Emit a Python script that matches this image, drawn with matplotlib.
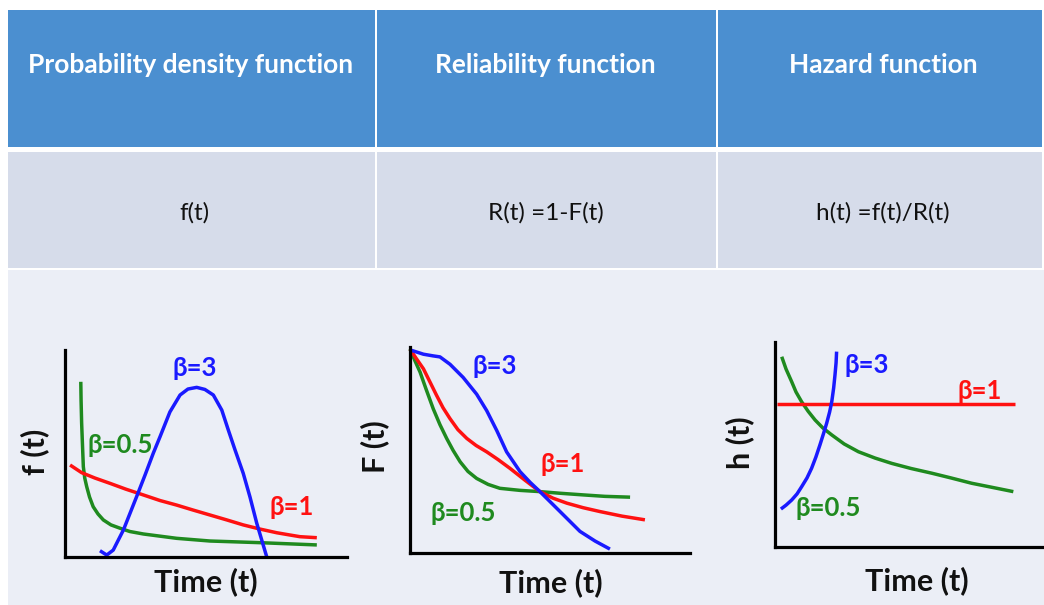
import matplotlib
matplotlib.use("Agg")
import matplotlib.pyplot as plt
from matplotlib.patches import Rectangle

# ---------------------------------------------------------------- text content
headers = ["Probability density function", "Reliability function", "Hazard function"]
formulas = ["f(t)", "R(t) =1-F(t)", "h(t) =f(t)/R(t)"]
ylabels = ["f (t)", "F (t)", "h (t)"]
xlabel = "Time (t)"
beta_labels = ["\u03b2=0.5", "\u03b2=1", "\u03b2=3"]

# ---------------------------------------------------------------- curve data
# probability density f(t)
pdf_b05_t = [0.56, 0.57, 0.59, 0.62, 0.65, 0.70, 0.77, 0.87, 1.00, 1.17, 1.36, 1.63,
             1.95, 2.30, 2.78, 3.96, 5.14, 6.91, 8.93]
pdf_b05_v = [8.46, 7.57, 6.46, 5.40, 4.35, 3.80, 3.38, 2.88, 2.41, 2.06, 1.77, 1.53,
             1.37, 1.21, 1.09, 0.88, 0.75, 0.67, 0.56]
pdf_b1_t = [0.18, 0.59, 1.06, 1.60, 2.16, 2.78, 3.37, 3.96, 4.54, 5.14, 5.74, 6.32,
            6.91, 7.51, 7.98, 8.33, 8.93]
pdf_b1_v = [4.43, 4.06, 3.80, 3.54, 3.26, 2.98, 2.71, 2.49, 2.25, 2.01, 1.77, 1.53,
            1.33, 1.15, 1.04, 0.96, 0.91]
pdf_b3_t = [1.24, 1.48, 1.71, 2.07, 2.54, 2.84, 3.13, 3.37, 3.72, 4.08, 4.36, 4.67,
            4.96, 5.26, 5.56, 5.79, 6.03, 6.32, 6.56, 6.80, 7.15]
pdf_b3_v = [0.28, 0.07, 0.31, 1.28, 2.90, 3.95, 5.00, 5.80, 7.00, 7.82, 8.11, 8.19,
            8.09, 7.82, 7.09, 6.13, 5.16, 4.03, 2.88, 1.61, 0.00]

# reliability R(t)
rel_b05_t = [0.00, 0.18, 0.36, 0.57, 0.83, 1.07, 1.31, 1.54, 1.79, 2.07, 2.38, 2.79,
             3.21, 3.93, 4.64, 5.36, 6.19, 6.96, 7.86]
rel_b05_v = [9.90, 9.32, 8.78, 7.97, 7.00, 6.23, 5.56, 4.98, 4.43, 3.96, 3.62, 3.33,
             3.14, 3.04, 2.98, 2.90, 2.82, 2.75, 2.71]
rel_b1_t = [0.00, 0.21, 0.48, 0.71, 0.95, 1.18, 1.43, 1.71, 2.03, 2.36, 2.74, 3.14,
            3.57, 4.11, 4.64, 5.11, 5.60, 6.18, 6.79, 7.57, 8.39]
rel_b1_v = [9.90, 9.47, 8.94, 8.31, 7.65, 7.05, 6.52, 5.99, 5.56, 5.22, 4.91, 4.54,
            4.11, 3.53, 2.98, 2.66, 2.42, 2.20, 2.01, 1.79, 1.61]
rel_b3_t = [0.00, 0.48, 0.82, 1.07, 1.43, 1.90, 2.38, 2.74, 3.10, 3.45, 3.93, 4.29,
            4.64, 5.36, 6.07, 6.61, 7.14]
rel_b3_v = [9.86, 9.65, 9.57, 9.52, 9.16, 8.52, 7.71, 6.91, 5.94, 4.91, 3.95, 3.43,
            2.98, 2.01, 1.05, 0.58, 0.19]

# hazard h(t)
haz_b05_t = [0.25, 0.41, 0.62, 0.78, 0.99, 1.23, 1.49, 1.78, 2.11, 2.57, 3.10, 3.72,
             4.34, 5.06, 5.83, 6.54, 7.31, 8.07, 8.86]
haz_b05_v = [9.28, 8.68, 8.06, 7.56, 7.08, 6.62, 6.19, 5.80, 5.46, 5.02, 4.64, 4.33,
             4.07, 3.82, 3.59, 3.36, 3.10, 2.90, 2.69]
haz_b1_t = [0.06, 8.92]
haz_b1_v = [6.96, 6.96]
haz_b3_t = [0.22, 0.41, 0.62, 0.82, 0.99, 1.19, 1.36, 1.52, 1.67, 1.80, 1.92, 2.03,
            2.11, 2.18, 2.23, 2.27, 2.29]
haz_b3_v = [1.84, 2.03, 2.28, 2.58, 2.93, 3.36, 3.83, 4.38, 4.97, 5.51, 6.03, 6.58,
            7.08, 7.75, 8.39, 8.98, 9.53]

# ---------------------------------------------------------------- styling
W, H = 1044, 605
HEADER_BLUE = "#4b8fd0"
FORMULA_BG = "#d6dcea"
BODY_BG = "#ebeef6"
GREEN = "#1f8a1f"
RED = "#ff1111"
BLUE = "#1a1aff"
LW = 2.5
SANS = ["Lato", "Open Sans", "DejaVu Sans"]

fig = plt.figure(figsize=(W / 100, H / 100), dpi=100)
fig.patch.set_facecolor("white")

# background layer in pixel coordinates
bg = fig.add_axes([0, 0, 1, 1])
bg.set_xlim(0, W)
bg.set_ylim(H, 0)
bg.axis("off")

col_edges = [(8, 375), (377, 716), (718, 1042)]
for (x0, x1) in col_edges:
    bg.add_patch(Rectangle((x0, 10), x1 - x0, 137, color=HEADER_BLUE, lw=0))
    bg.add_patch(Rectangle((x0, 152), x1 - x0, 116, color=FORMULA_BG, lw=0))
bg.add_patch(Rectangle((8, 270), W - 8, H - 270, color=BODY_BG, lw=0))

header_x = [191, 545, 883]
for x, txt in zip(header_x, headers):
    bg.text(x, 65, txt, ha="center", va="center", color="white",
            fontsize=19, fontweight="bold", family=SANS)
formula_x = [194, 546, 883]
for x, txt in zip(formula_x, formulas):
    bg.text(x, 213, txt, ha="center", va="center", color="#111111",
            fontsize=17.5, family=SANS)

# ---------------------------------------------------------------- panels
# (left, bottom, right, top) of each panel's axis lines, in pixels
panels = [(65, 556.5, 347, 350), (410, 553, 690, 347), (775, 546.7, 1044, 342)]
series = [
    [(pdf_b05_t, pdf_b05_v, GREEN), (pdf_b1_t, pdf_b1_v, RED), (pdf_b3_t, pdf_b3_v, BLUE)],
    [(rel_b05_t, rel_b05_v, GREEN), (rel_b1_t, rel_b1_v, RED), (rel_b3_t, rel_b3_v, BLUE)],
    [(haz_b05_t, haz_b05_v, GREEN), (haz_b1_t, haz_b1_v, RED), (haz_b3_t, haz_b3_v, BLUE)],
]
# label anchors (pixels) for beta=0.5, beta=1, beta=3 in each panel
label_pos = [
    [(120, 445), (292, 507), (195, 368)],
    [(463, 513), (563, 464), (495, 366)],
    [(828, 508), (980, 391), (867, 365)],
]
ylabel_pos = [(35, 452), (375, 447), (740, 443)]
xlabel_pos = [(206, 582), (551, 583), (917, 581)]
colors = [GREEN, RED, BLUE]

for i, (l, b, r, t) in enumerate(panels):
    ax = fig.add_axes([l / W, 1 - b / H, (r - l) / W, (b - t) / H])
    ax.set_xlim(0, 10)
    ax.set_ylim(0, 10)
    ax.patch.set_alpha(0)
    for side in ("top", "right"):
        ax.spines[side].set_visible(False)
    for side in ("left", "bottom"):
        ax.spines[side].set_linewidth(2.3)
        ax.spines[side].set_color("black")
    ax.set_xticks([])
    ax.set_yticks([])
    for tt, vv, c in series[i]:
        ax.plot(tt, vv, color=c, lw=LW, solid_capstyle="butt",
                solid_joinstyle="round", clip_on=False)
    for (x, y), txt, c in zip(label_pos[i], beta_labels, colors):
        bg.text(x, y, txt, ha="center", va="center", color=c,
                fontsize=18.5, fontweight="bold", family=SANS)
    bg.text(*ylabel_pos[i], ylabels[i], ha="center", va="center", rotation=90,
            color="#111111", fontsize=22, fontweight="bold", family=SANS)
    bg.text(*xlabel_pos[i], xlabel, ha="center", va="center",
            color="#111111", fontsize=22, fontweight="bold", family=SANS)

fig.savefig("out.png", dpi=100)
